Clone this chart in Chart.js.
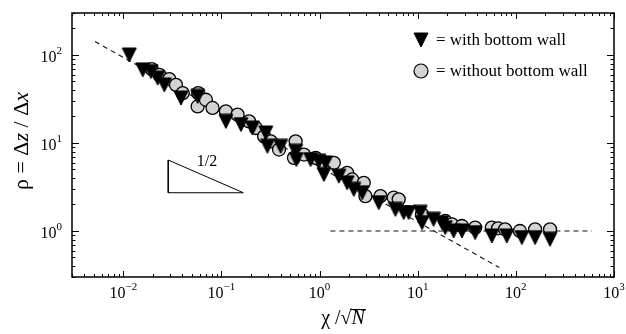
<!DOCTYPE html>
<html>
<head>
<meta charset="utf-8">
<script src="https://cdn.jsdelivr.net/npm/chart.js@4"></script>
<style>
  html, body { margin: 0; padding: 0; background: #fff; }
</style>
</head>
<body>
<canvas id="chart" width="626" height="334"></canvas>
<script>
// with bottom wall (filled triangles)
const wallX = [0.0115, 0.0158, 0.0192, 0.0224, 0.0262, 0.0387, 0.0572, 0.111, 0.158, 0.207,
  0.283, 0.294, 0.401, 0.570, 0.58, 0.81, 0.984, 1.15, 1.106, 1.57,
  1.91, 2.23, 2.72, 4.01, 5.92, 7.19, 8.08, 10.6, 11.06, 14.5,
  17.7, 19.1, 23.2, 28.2, 38.5, 56.9, 80.8, 115, 157, 223];
const wallY = [100, 67.8, 64.9, 54.6, 45.8, 32.4, 33.8, 17.6, 16.2, 14.8,
  13.0, 9.18, 9.18, 8.05, 6.49, 6.49, 6.21, 5.95, 4.39, 4.20,
  3.53, 2.97, 2.72, 2.10, 1.76, 1.62, 1.62, 1.63, 1.245, 1.357,
  1.245, 1.093, 1.0, 1.0, 0.959, 0.878, 0.878, 0.842, 0.842, 0.805];

// without bottom wall (grey circles)
const noWallX = [0.0195, 0.0233, 0.0294, 0.0344, 0.0403, 0.058, 0.0572, 0.0694, 0.0812, 0.111,
  0.146, 0.191, 0.224, 0.272, 0.318, 0.386, 0.570, 0.548, 0.693, 0.911,
  1.397, 1.91, 2.15, 2.82, 2.93, 4.17, 5.69, 6.40, 11.06, 19.1,
  22.3, 28.2, 38.5, 56.9, 65.9, 77.6, 110, 157, 223];
const noWallY = [69.0, 59.5, 53.2, 45.8, 36.9, 36.9, 26.0, 31.0, 25.0, 22.9,
  21.0, 17.6, 14.8, 11.9, 10.45, 8.42, 10.45, 6.78, 7.39, 6.78,
  5.95, 4.58, 3.85, 3.53, 2.49, 2.49, 2.39, 2.29, 1.545, 1.30,
  1.19, 1.14, 1.093, 1.093, 1.073, 1.045, 1.0, 1.045, 1.045];

// guide lines
const slopeLineX = [0.00515, 67.7];
const slopeLineY = [142, 0.385];
const plateauX = [1.29, 596];
const plateauY = [1, 1];
// slope triangle (1/2)
const slopeTriX = [0.0287, 0.0287, 0.167, 0.0287];
const slopeTriY = [6.4, 2.72, 2.72, 6.4];

const xTicks = [-2, -1, 0, 1, 2, 3];
const yTicks = [0, 1, 2];

const serif = '"Liberation Serif", "DejaVu Serif", serif';

function pts(xs, ys) {
  return xs.map((x, i) => ({ x: x, y: ys[i] }));
}

// downward triangle marker, centred on its bounding box
function makeTriangle(w, h) {
  const c = document.createElement('canvas');
  c.width = w + 2;
  c.height = h + 2;
  const g = c.getContext('2d');
  g.fillStyle = '#000';
  g.strokeStyle = '#000';
  g.lineWidth = 1;
  g.beginPath();
  g.moveTo(1, 1);
  g.lineTo(w + 1, 1);
  g.lineTo(w / 2 + 1, h + 1);
  g.closePath();
  g.fill();
  g.stroke();
  return c;
}
const triMark = makeTriangle(14, 14);

function drawPow(ctx, exp, x, base, align) {
  ctx.font = '16px ' + serif;
  const w1 = ctx.measureText('10').width;
  ctx.font = '11px ' + serif;
  const w2 = ctx.measureText(exp).width;
  let start = x;
  if (align === 'center') start = x - (w1 + w2) / 2;
  if (align === 'right') start = x - (w1 + w2);
  ctx.textAlign = 'left';
  ctx.font = '16px ' + serif;
  ctx.fillText('10', start, base);
  ctx.font = '11px ' + serif;
  ctx.fillText(exp, start + w1, base - 8);
}

function drawPieces(ctx, pieces, cx, base) {
  let total = 0;
  pieces.forEach(p => { ctx.font = p[1]; total += ctx.measureText(p[0]).width; });
  let pos = cx - total / 2;
  ctx.textAlign = 'left';
  const spans = [];
  pieces.forEach(p => {
    ctx.font = p[1];
    ctx.fillText(p[0], pos, base);
    const w = ctx.measureText(p[0]).width;
    spans.push([pos, w]);
    pos += w;
  });
  return spans;
}

const decor = {
  id: 'decor',
  afterDraw(chart) {
    const { ctx, chartArea: a, scales } = chart;
    const xs = scales.x, ys = scales.y;
    ctx.save();
    ctx.fillStyle = '#000';
    ctx.strokeStyle = '#000';

    // ticks, inside on all four sides
    ctx.lineWidth = 1;
    ctx.beginPath();
    for (let d = -3; d <= 3; d++) {
      for (let m = 1; m <= 9; m++) {
        const v = m * Math.pow(10, d);
        if (v >= xs.min && v <= xs.max) {
          const p = Math.round(xs.getPixelForValue(v)) + 0.5;
          const len = m === 1 ? 6 : 3;
          ctx.moveTo(p, a.bottom); ctx.lineTo(p, a.bottom - len);
          ctx.moveTo(p, a.top); ctx.lineTo(p, a.top + len);
        }
        if (v >= ys.min && v <= ys.max) {
          const p = Math.round(ys.getPixelForValue(v)) + 0.5;
          const len = m === 1 ? 7 : 3.5;
          ctx.moveTo(a.left, p); ctx.lineTo(a.left + len, p);
          ctx.moveTo(a.right, p); ctx.lineTo(a.right - len, p);
        }
      }
    }
    ctx.stroke();

    // frame
    ctx.lineWidth = 1.5;
    ctx.strokeRect(a.left, a.top, a.right - a.left, a.bottom - a.top);

    // tick labels
    ctx.textBaseline = 'alphabetic';
    xTicks.forEach(e => {
      const p = xs.getPixelForValue(Math.pow(10, e));
      drawPow(ctx, e < 0 ? '\u2212' + (-e) : String(e), p, 298, 'center');
    });
    yTicks.forEach(e => {
      const p = ys.getPixelForValue(Math.pow(10, e));
      drawPow(ctx, String(e), a.left - 10, p + 7, 'right');
    });

    // x title: chi / sqrt(N)
    const spans = drawPieces(ctx, [
      ['\u03c7 /\u221a', '20px ' + serif],
      ['N', 'italic 20px ' + serif]
    ], (a.left + a.right) / 2 + 0, 324);
    ctx.lineWidth = 1;
    ctx.beginPath();
    ctx.moveTo(spans[1][0] - 1, 309.5);
    ctx.lineTo(spans[1][0] + spans[1][1] + 1, 309.5);
    ctx.stroke();

    // y title: rho = dz / dx
    ctx.save();
    ctx.translate(28, 141);
    ctx.rotate(-Math.PI / 2);
    drawPieces(ctx, [
      ['\u03c1 = \u0394', '22px ' + serif],
      ['z', 'italic 22px ' + serif],
      [' / \u0394', '22px ' + serif],
      ['x', 'italic 22px ' + serif]
    ], 0, 0);
    ctx.restore();

    // slope label
    ctx.font = '16px ' + serif;
    ctx.textAlign = 'center';
    ctx.fillText('1/2', 207, 166);

    // legend
    const lx = 421;
    ctx.drawImage(triMark, lx - triMark.width / 2, 40 - triMark.height / 2);
    ctx.beginPath();
    ctx.arc(lx, 71, 7, 0, Math.PI * 2);
    ctx.fillStyle = '#d3d3d3';
    ctx.fill();
    ctx.lineWidth = 1.2;
    ctx.stroke();
    ctx.fillStyle = '#000';
    ctx.font = '17px ' + serif;
    ctx.textAlign = 'left';
    ctx.fillText('= with bottom wall', 436, 45);
    ctx.fillText('= without bottom wall', 436, 76);

    ctx.restore();
  }
};

new Chart(document.getElementById('chart'), {
  type: 'scatter',
  data: {
    datasets: [
      {
        data: pts(wallX, wallY),
        pointStyle: triMark,
        pointRadius: 8,
        order: 0
      },
      {
        data: pts(noWallX, noWallY),
        pointStyle: 'circle',
        pointRadius: 6.5,
        backgroundColor: '#d3d3d3',
        borderColor: '#000',
        borderWidth: 1.3,
        order: 1
      },
      {
        data: pts(slopeLineX, slopeLineY),
        showLine: true,
        pointRadius: 0,
        borderColor: '#111',
        borderWidth: 1.1,
        borderDash: [5, 4],
        order: 2
      },
      {
        data: pts(plateauX, plateauY),
        showLine: true,
        pointRadius: 0,
        borderColor: '#111',
        borderWidth: 1.1,
        borderDash: [5, 4],
        order: 2
      },
      {
        data: pts(slopeTriX, slopeTriY),
        showLine: true,
        pointRadius: 0,
        borderColor: '#000',
        borderWidth: 1,
        order: 2
      }
    ]
  },
  options: {
    responsive: false,
    animation: false,
    layout: { padding: { left: 72, right: 12, top: 13, bottom: 57 } },
    plugins: { legend: { display: false }, tooltip: { enabled: false } },
    scales: {
      x: { type: 'logarithmic', min: 0.003, max: 1000, display: false },
      y: { type: 'logarithmic', min: 0.3, max: 300, display: false }
    }
  },
  plugins: [decor]
});
</script>
</body>
</html>
